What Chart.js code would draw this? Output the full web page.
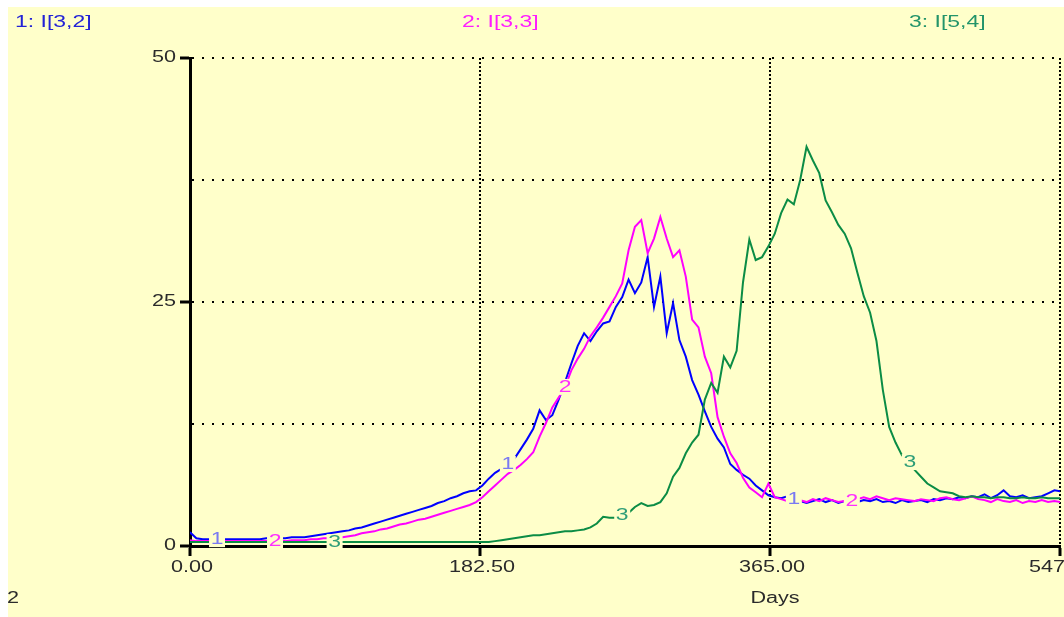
<!DOCTYPE html>
<html>
<head>
<meta charset="utf-8">
<script src="https://cdn.jsdelivr.net/npm/chart.js@4/dist/chart.umd.min.js"></script>
<style>
html, body { margin: 0; padding: 0; background: #fff; overflow: hidden; }
#wrap { position: absolute; left: 0; top: 0; width: 1100px; height: 617px; }
</style>
</head>
<body>
<div id="wrap"><canvas id="plot" width="1100" height="617"></canvas></div>
<script>
const dayStep = 4;
const xTicks = [0, 182.5, 365, 547.5];
const yTicks = [0, 12.5, 25, 37.5, 50];
const seriesNames = ['1: I[3,2]', '2: I[3,3]', '3: I[5,4]'];
const markerText = ['1', '2', '3'];
const markerDays = [[17, 200, 380], [53.5, 236, 416.5], [91, 272, 453]];

const i32 = [
  1.4, 0.8, 0.7, 0.7, 0.7, 0.7, 0.7, 0.7, 0.7, 0.7,
  0.7, 0.7, 0.8, 0.8, 0.8, 0.8, 0.9, 0.9, 0.9, 1.0,
  1.1, 1.2, 1.3, 1.4, 1.5, 1.6, 1.8, 1.9, 2.1, 2.3,
  2.5, 2.7, 2.9, 3.1, 3.3, 3.5, 3.7, 3.9, 4.1, 4.4,
  4.6, 4.9, 5.1, 5.4, 5.6, 5.7, 6.2, 6.9, 7.5, 7.9,
  8.4, 8.9, 9.9, 10.9, 12.0, 13.9, 12.9, 13.4, 15.0, 16.8,
  18.7, 20.5, 21.8, 21.0, 22.0, 22.8, 23.0, 24.5, 25.5, 27.3,
  25.9, 27.0, 29.6, 24.5, 27.6, 21.8, 24.9, 21.1, 19.4, 17.0,
  15.5, 13.8, 12.2, 11.0, 10.1, 8.4, 7.8, 7.3, 6.9, 6.2,
  5.7, 5.2, 5.0, 4.9, 5.1, 4.8, 4.6, 4.4, 4.6, 4.8,
  4.5, 4.7, 4.4, 4.6, 4.9, 4.5, 4.7, 4.6, 4.8, 4.5,
  4.6, 4.4, 4.7, 4.5, 4.6, 4.7, 4.5, 4.8, 4.7, 4.9,
  4.8, 5.0, 4.9, 5.1, 5.0, 5.3, 4.9, 5.2, 5.7, 5.1,
  5.0, 5.2, 4.9, 5.0, 5.1, 5.4, 5.7, 5.6
];
const i33 = [
  0.6, 0.5, 0.5, 0.5, 0.5, 0.5, 0.5, 0.5, 0.5, 0.5,
  0.5, 0.5, 0.5, 0.5, 0.5, 0.5, 0.6, 0.6, 0.6, 0.7,
  0.7, 0.8, 0.8, 0.9, 0.9, 1.0, 1.1, 1.3, 1.4, 1.5,
  1.7, 1.8, 2.0, 2.2, 2.3, 2.5, 2.7, 2.8, 3.0, 3.2,
  3.4, 3.6, 3.8, 4.0, 4.2, 4.5, 5.0, 5.6, 6.2, 6.8,
  7.4, 7.8, 8.3, 8.9, 9.6, 11.2, 12.6, 14.2, 15.2, 16.3,
  18.0, 19.2, 20.2, 21.5, 22.4, 23.4, 24.5, 25.6, 26.9, 30.3,
  32.7, 33.4, 30.0, 31.5, 33.7, 31.5, 29.6, 30.3, 27.6, 23.2,
  22.4, 19.4, 17.7, 13.2, 11.2, 9.5, 8.5, 7.0, 6.0, 5.5,
  5.0, 6.4, 5.0, 4.8, 4.6, 4.9, 4.7, 4.5, 4.8, 4.6,
  4.9, 4.7, 4.5, 4.6, 4.6, 4.8, 5.0, 4.8, 5.1, 4.9,
  4.7, 4.9, 4.8, 4.7, 4.6, 4.8, 4.7, 4.6, 4.9, 5.0,
  4.8, 4.7, 4.9, 5.1, 4.8, 4.7, 4.5, 4.8, 4.6, 4.5,
  4.7, 4.4, 4.6, 4.5, 4.7, 4.5, 4.6, 4.5
];
const i54 = [
  0.4, 0.4, 0.4, 0.4, 0.4, 0.4, 0.4, 0.4, 0.4, 0.4,
  0.4, 0.4, 0.4, 0.4, 0.4, 0.4, 0.4, 0.4, 0.4, 0.4,
  0.4, 0.4, 0.4, 0.4, 0.4, 0.4, 0.4, 0.4, 0.4, 0.4,
  0.4, 0.4, 0.4, 0.4, 0.4, 0.4, 0.4, 0.4, 0.4, 0.4,
  0.4, 0.4, 0.4, 0.4, 0.4, 0.4, 0.4, 0.4, 0.5, 0.6,
  0.7, 0.8, 0.9, 1.0, 1.1, 1.1, 1.2, 1.3, 1.4, 1.5,
  1.5, 1.6, 1.7, 1.9, 2.3, 3.0, 2.9, 2.9, 3.1, 3.4,
  4.0, 4.4, 4.1, 4.2, 4.5, 5.4, 7.1, 8.0, 9.5, 10.6,
  11.4, 15.0, 16.7, 15.7, 19.4, 18.3, 20.0, 27.0, 31.4, 29.3,
  29.6, 30.7, 32.0, 34.1, 35.5, 35.0, 37.5, 40.9, 39.5, 38.2,
  35.4, 34.2, 32.9, 32.0, 30.5, 28.0, 25.6, 23.9, 21.0, 16.0,
  12.2, 10.6, 9.3, 8.6, 7.8, 7.1, 6.4, 6.0, 5.6, 5.5,
  5.4, 5.1, 5.0, 5.1, 5.0, 5.0, 4.9, 5.0, 5.0, 4.9,
  4.9, 5.0, 4.9, 4.9, 5.0, 4.9, 4.9, 4.9
];

const lineColors = ['#0000ff', '#ff00ff', '#0b8c45'];
const titleColors = ['#2323d6', '#ff1cff', '#23946a'];
const markerColors = ['#7a7af2', '#ff2eff', '#2f9e78'];
const bgYellow = '#ffffca';
const textColor = '#2b2b2b';
const stretch = 1.35;
const fontFam = '"Liberation Sans", Arial, sans-serif';

const allSeries = [i32, i33, i54];

function toPoints(vals) {
  return vals.map((v, i) => ({ x: i * dayStep, y: v }));
}

function wideText(ctx, txt, x, y, align, color, size) {
  ctx.save();
  ctx.font = size + 'px ' + fontFam;
  ctx.fillStyle = color;
  ctx.textBaseline = 'middle';
  ctx.textAlign = 'left';
  const w = ctx.measureText(txt).width * stretch;
  let left = x;
  if (align === 'center') left = x - w / 2;
  if (align === 'right') left = x - w;
  ctx.translate(left, y);
  ctx.scale(stretch, 1);
  ctx.fillText(txt, 0, 0);
  ctx.restore();
  return w;
}

const stellaLook = {
  id: 'stellaLook',
  beforeDraw(chart) {
    const ctx = chart.ctx;
    ctx.save();
    ctx.fillStyle = '#fff';
    ctx.fillRect(0, 0, chart.width, chart.height);
    ctx.fillStyle = bgYellow;
    ctx.fillRect(8, 7, chart.width - 8, chart.height - 7);
    ctx.restore();
  },
  afterDraw(chart) {
    const ctx = chart.ctx;
    const xs = chart.scales.x;
    const ys = chart.scales.y;

    // series titles across the top
    wideText(ctx, seriesNames[0], 15, 22, 'left', titleColors[0], 17);
    wideText(ctx, seriesNames[1], 462, 22, 'left', titleColors[1], 17);
    wideText(ctx, seriesNames[2], 909, 22, 'left', titleColors[2], 17);

    // tick labels
    yTicks.forEach(v => {
      if (v % 25 !== 0) return;
      wideText(ctx, String(v), 176, ys.getPixelForValue(v), 'right', textColor, 16);
    });
    xTicks.forEach(v => {
      wideText(ctx, v.toFixed(2), xs.getPixelForValue(v) + 2, 568, 'center', textColor, 16);
    });
    wideText(ctx, 'Days', xs.getPixelForValue(365) + 5, 599, 'center', textColor, 16);
    wideText(ctx, '2', 7, 599, 'left', textColor, 16);

    // numbered markers sitting on each line
    markerDays.forEach((days, s) => {
      days.forEach(d => {
        const v = allSeries[s][Math.round(d / dayStep)];
        const px = xs.getPixelForValue(d);
        const py = ys.getPixelForValue(v);
        ctx.save();
        ctx.fillStyle = bgYellow;
        ctx.fillRect(px - 8, py - 8, 16, 16);
        ctx.restore();
        wideText(ctx, markerText[s], px, py, 'center', markerColors[s], 17);
      });
    });
  }
};

const chart = new Chart(document.getElementById('plot').getContext('2d'), {
  type: 'line',
  data: {
    datasets: [
      { label: seriesNames[0], data: toPoints(i32), borderColor: lineColors[0], order: 2 },
      { label: seriesNames[1], data: toPoints(i33), borderColor: lineColors[1], order: 1 },
      { label: seriesNames[2], data: toPoints(i54), borderColor: lineColors[2], order: 0 }
    ]
  },
  options: {
    responsive: false,
    animation: false,
    events: [],
    layout: { padding: { top: 58, right: 40, left: 0, bottom: 0 } },
    elements: {
      line: { borderWidth: 2, tension: 0, stepped: false },
      point: { radius: 0 }
    },
    plugins: { legend: { display: false }, tooltip: { enabled: false } },
    scales: {
      x: {
        type: 'linear',
        min: 0,
        max: 547.5,
        afterBuildTicks: s => { s.ticks = xTicks.map(v => ({ value: v })); },
        afterFit: s => { s.height = 71; },
        ticks: { display: false },
        grid: {
          color: '#000', lineWidth: 2,
          tickColor: '#000', tickWidth: 3, tickLength: 10, tickBorderDash: []
        },
        border: { color: '#000', width: 3, dash: [2, 2] }
      },
      y: {
        min: 0,
        max: 50,
        afterBuildTicks: s => { s.ticks = yTicks.map(v => ({ value: v })); },
        afterFit: s => { s.width = 190; },
        ticks: { display: false },
        grid: {
          color: '#000', lineWidth: 2,
          tickColor: c => (c.tick && c.tick.value % 25 === 0 ? '#000' : 'rgba(0,0,0,0)'),
          tickWidth: 3, tickLength: 10, tickBorderDash: []
        },
        border: { color: '#000', width: 3, dash: [2, 8] }
      }
    }
  },
  plugins: [stellaLook]
});
</script>
</body>
</html>
